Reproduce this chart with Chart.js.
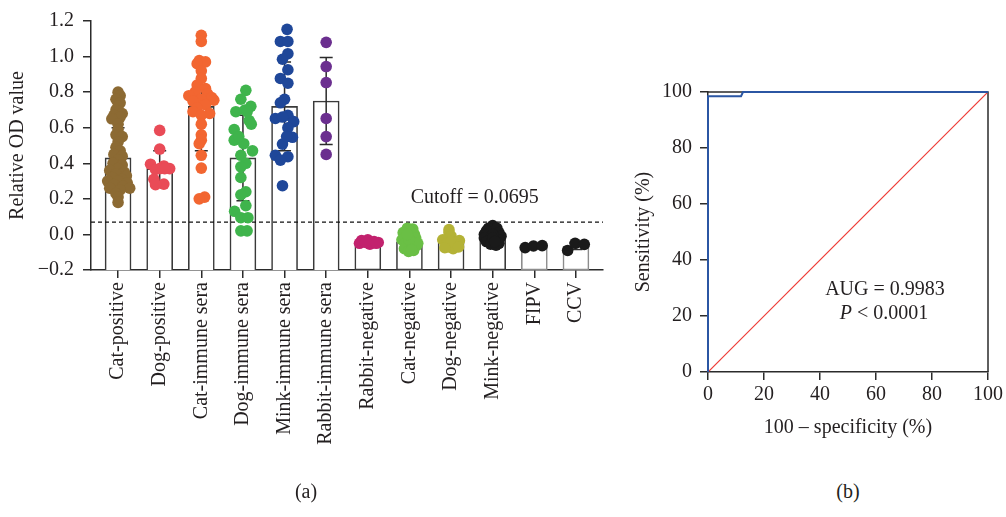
<!DOCTYPE html>
<html>
<head>
<meta charset="utf-8">
<script src="https://cdn.jsdelivr.net/npm/chart.js@4.4.0/dist/chart.umd.min.js"></script>
<style>
  body { margin: 0; background: #fff; }
  #wrap { position: relative; width: 1006px; height: 517px; }
  .box { position: absolute; }
  .tag { position: absolute; width: 60px; text-align: center; line-height: 24px;
         font: 20px 'Liberation Serif', serif; color: #231f20; }
</style>
</head>
<body>
<div id="wrap">
  <div class="box" style="left:0;top:0;width:620px;height:517px"><canvas id="odChart"></canvas></div>
  <div class="box" style="left:620px;top:0;width:386px;height:444px"><canvas id="rocChart"></canvas></div>
  <div class="tag" style="left:276px;top:480px">(a)</div>
  <div class="tag" style="left:818px;top:480px">(b)</div>
</div>
<script>
// ---- panel (a) data ----
const groups = ['Cat-positive', 'Dog-positive', 'Cat-immune sera', 'Dog-immune sera',
  'Mink-immune sera', 'Rabbit-immune sera', 'Rabbit-negative', 'Cat-negative',
  'Dog-negative', 'Mink-negative', 'FIPV', 'CCV'];
const groupColors = ['#8c6a33', '#e94b57', '#f26631', '#3fb44c', '#1f4799', '#6b2f8f',
  '#c2226e', '#6abf45', '#b4b236', '#1a1a1a', '#1a1a1a', '#1a1a1a'];
const barMeans = [0.43, 0.37, 0.72, 0.43, 0.72, 0.75, -0.04, -0.04, -0.045, -0.01, -0.067, -0.065];
const barSD = [0.17, 0.10, 0.25, 0.24, 0.25, 0.245, 0.01, 0.04, 0.03, 0.03, 0.005, 0.02];
const cutoff = 0.0695;

// [value, horizontal jitter in category units]
const catPositive = [[0.80, 0], [0.78, 0.05], [0.76, -0.05], [0.74, 0.05], [0.72, 0], [0.70, -0.05],
  [0.68, 0.1], [0.67, -0.1], [0.66, 0.05], [0.65, -0.15], [0.62, 0], [0.59, 0], [0.56, -0.05],
  [0.55, 0.1], [0.52, 0], [0.49, -0.05], [0.47, 0.05], [0.45, -0.1], [0.44, 0.1], [0.42, 0],
  [0.40, -0.12], [0.39, 0.1], [0.37, 0], [0.36, -0.2], [0.35, 0.15], [0.34, -0.05], [0.33, 0.2],
  [0.32, -0.15], [0.31, 0.08], [0.30, -0.25], [0.30, 0], [0.29, 0.22], [0.28, -0.1], [0.27, 0.12],
  [0.26, -0.2], [0.26, 0.28], [0.25, 0.05], [0.23, -0.05], [0.21, 0], [0.18, 0]];
const dogPositive = [[0.585, 0], [0.48, 0], [0.395, -0.22], [0.385, 0.1], [0.37, 0.24], [0.37, 0],
  [0.365, -0.1], [0.37, 0.12], [0.31, -0.14], [0.283, 0.1], [0.28, -0.1]];
const catImmune = [[1.12, 0], [1.085, 0], [0.977, -0.05], [0.97, 0.1], [0.96, -0.1], [0.92, 0],
  [0.877, 0], [0.84, -0.1], [0.82, 0.1], [0.80, -0.15], [0.79, 0.15], [0.78, -0.3], [0.77, 0.25],
  [0.76, 0], [0.755, 0.3], [0.75, -0.2], [0.73, 0.1], [0.71, -0.1], [0.69, -0.2], [0.68, 0.2],
  [0.67, 0], [0.62, 0], [0.56, 0], [0.53, 0], [0.51, -0.05], [0.445, 0], [0.373, 0], [0.21, 0.08],
  [0.20, -0.05]];
const dogImmune = [[0.81, 0.07], [0.76, -0.05], [0.72, 0.19], [0.69, -0.17], [0.70, 0.05],
  [0.64, 0.15], [0.62, 0.2], [0.59, -0.21], [0.53, -0.21], [0.51, 0.02], [0.47, 0.23],
  [0.445, -0.05], [0.40, 0.07], [0.38, -0.05], [0.32, -0.05], [0.24, 0.07], [0.223, -0.05],
  [0.162, 0.07], [0.13, -0.2], [0.094, -0.05], [0.094, 0.12], [0.02, -0.05], [0.02, 0.1],
  [0.55, -0.1], [0.69, 0.1]];
const minkImmune = [[1.153, 0.06], [1.085, -0.1], [1.085, 0.08], [1.016, 0.08], [0.985, -0.05],
  [0.926, 0.08], [0.877, -0.1], [0.85, 0.08], [0.76, 0], [0.74, -0.1], [0.652, -0.22], [0.67, 0.08],
  [0.634, 0.22], [0.60, 0.08], [0.546, 0.19], [0.508, -0.05], [0.445, -0.22], [0.437, 0.08],
  [0.418, -0.1], [0.274, -0.05], [0.66, -0.05], [0.55, 0.05]];
const rabbitImmune = [[1.08, 0], [0.944, 0], [0.854, 0], [0.652, 0], [0.55, 0], [0.45, 0]];
const rabbitNegative = [[-0.035, -0.15], [-0.03, 0], [-0.04, 0.15], [-0.045, 0.25], [-0.05, -0.2],
  [-0.055, 0.05], [-0.045, -0.05], [-0.05, 0.2]];
const catNegative = [[0.035, -0.05], [0.03, 0.08], [0.02, 0], [0.01, -0.15], [0, 0.12],
  [-0.01, -0.05], [-0.02, 0.15], [-0.03, -0.18], [-0.04, 0.05], [-0.05, -0.1], [-0.06, 0.18],
  [-0.07, 0], [-0.08, -0.12], [-0.09, 0.1], [-0.095, -0.02], [-0.05, 0.2], [-0.03, 0],
  [0, -0.05], [-0.085, 0.05]];
const dogNegative = [[0.027, -0.05], [0.01, -0.05], [-0.01, 0], [-0.03, -0.2], [-0.035, 0.2],
  [-0.05, -0.1], [-0.06, 0.15], [-0.07, -0.05], [-0.08, 0.05], [-0.04, 0], [-0.075, -0.15],
  [-0.07, 0.18]];
const minkNegative = [[0.05, 0], [0.035, -0.1], [0.035, 0.1], [0.02, -0.15], [0.01, 0.15],
  [0, -0.2], [-0.01, 0.2], [-0.02, -0.2], [-0.03, 0.15], [-0.04, -0.15], [-0.05, 0.15],
  [-0.055, -0.05], [-0.06, 0.08], [0, 0], [-0.02, 0], [-0.04, 0.05]];
const fipv = [[-0.074, -0.22], [-0.065, -0.02], [-0.063, 0.19]];
const ccv = [[-0.09, -0.2], [-0.05, -0.02], [-0.056, 0.2]];
const groupPoints = [catPositive, dogPositive, catImmune, dogImmune, minkImmune, rabbitImmune,
  rabbitNegative, catNegative, dogNegative, minkNegative, fipv, ccv];

// ---- panel (b) data ----
const rocFpr = [0, 0, 11.8, 12.5, 100];
const rocSens = [0, 98.5, 98.5, 100, 100];
const chanceLine = [0, 100];
const aucLabel = 'AUG = 0.9983';
const pLabel = ' < 0.0001';

Chart.defaults.font.family = "'Liberation Serif', serif";
Chart.defaults.font.size = 20;
Chart.defaults.color = '#231f20';
const ink = '#2b2b2b';
const FONT = "20px 'Liberation Serif', serif";

const axisLook = {
  grid: { drawOnChartArea: false, drawTicks: true, tickLength: 8, color: ink, lineWidth: 1.5, offset: false },
  border: { color: ink, width: 1.5 }
};

// error bars + cutoff line drawn right after the bars, under the dots
const errorBars = {
  id: 'errorBars',
  afterDatasetDraw(chart, args) {
    if (args.meta.type !== 'bar') return;
    const { ctx, chartArea } = chart;
    const x = chart.scales.x, y = chart.scales.y;
    ctx.save();
    ctx.strokeStyle = ink;
    ctx.lineWidth = 1.5;
    barMeans.forEach((m, i) => {
      const px = x.getPixelForValue(i);
      const top = y.getPixelForValue(m + barSD[i]);
      const bot = y.getPixelForValue(m - barSD[i]);
      ctx.beginPath();
      ctx.moveTo(px, top); ctx.lineTo(px, bot);
      ctx.moveTo(px - 6.5, top); ctx.lineTo(px + 6.5, top);
      ctx.moveTo(px - 6.5, bot); ctx.lineTo(px + 6.5, bot);
      ctx.stroke();
    });
    const cy = y.getPixelForValue(cutoff);
    ctx.setLineDash([4, 3]);
    ctx.lineWidth = 1.2;
    ctx.strokeStyle = '#111';
    ctx.beginPath();
    ctx.moveTo(chartArea.left, cy);
    ctx.lineTo(chartArea.right, cy);
    ctx.stroke();
    ctx.setLineDash([]);
    ctx.fillStyle = '#231f20';
    ctx.font = FONT;
    ctx.textAlign = 'center';
    ctx.textBaseline = 'alphabetic';
    ctx.fillText('Cutoff = ' + cutoff, x.getPixelForValue(8.57), y.getPixelForValue(0.178));
    ctx.restore();
  }
};

const scatterSets = groupPoints.map((pts, i) => ({
  type: 'scatter',
  label: groups[i],
  data: pts.map(([v, dx]) => ({ x: i + dx, y: v })),
  backgroundColor: groupColors[i],
  borderWidth: 0,
  pointRadius: 5.8,
  order: 0,
  clip: false
}));

new Chart(document.getElementById('odChart'), {
  type: 'scatter',
  data: {
    datasets: [...scatterSets, {
      type: 'bar',
      label: 'Mean',
      data: barMeans.map((m, i) => ({ x: i, y: [-0.2, m] })),
      backgroundColor: '#fff',
      borderColor: c => c.dataIndex >= 10 ? '#8c8c8c' : '#3a3a3a',
      borderWidth: 1.6,
      borderSkipped: 'start',
      barThickness: 26,
      order: 1
    }]
  },
  options: {
    responsive: true,
    maintainAspectRatio: false,
    animation: false,
    layout: { padding: { left: 2, right: 17, top: 12, bottom: 0 } },
    plugins: { legend: { display: false }, tooltip: { enabled: false } },
    scales: {
      x: {
        type: 'linear', min: -0.65, max: 11.65, offset: false,
        afterBuildTicks: s => { s.ticks = groups.map((_, i) => ({ value: i })); },
        afterFit: s => { s.height = 247; },
        ...axisLook,
        ticks: { autoSkip: false, minRotation: 90, maxRotation: 90, padding: 4, callback: v => groups[v] }
      },
      y: {
        min: -0.2, max: 1.2,
        afterFit: s => { s.width = 89; },
        ...axisLook,
        ticks: {
          stepSize: 0.2, padding: 9,
          callback: v => Math.abs(v) < 1e-9 ? '0.0' : v.toFixed(1).replace('-', '\u2212')
        },
        title: { display: true, text: 'Relative OD value', padding: { top: 4, bottom: 4 } }
      }
    }
  },
  plugins: [errorBars]
});

// frame on top/right, under the curve
const frame = {
  id: 'frame',
  beforeDatasetsDraw(chart) {
    const { ctx, chartArea: a } = chart;
    ctx.save();
    ctx.strokeStyle = ink;
    ctx.lineWidth = 1.5;
    ctx.beginPath();
    ctx.moveTo(a.left, a.top); ctx.lineTo(a.right, a.top); ctx.lineTo(a.right, a.bottom);
    ctx.stroke();
    ctx.restore();
  }
};

const rocText = {
  id: 'rocText',
  afterDatasetsDraw(chart) {
    const { ctx } = chart;
    const x = chart.scales.x, y = chart.scales.y;
    const cx = x.getPixelForValue(63.2);
    ctx.save();
    ctx.fillStyle = '#231f20';
    ctx.textBaseline = 'alphabetic';
    ctx.font = FONT;
    ctx.textAlign = 'center';
    ctx.fillText(aucLabel, cx, y.getPixelForValue(27.5));
    const italic = "italic 20px 'Liberation Serif', serif";
    ctx.font = italic;
    const wP = ctx.measureText('P').width;
    ctx.font = FONT;
    const wR = ctx.measureText(pLabel).width;
    const x0 = cx - 1 - (wP + wR) / 2;
    const by = y.getPixelForValue(18.9);
    ctx.textAlign = 'left';
    ctx.font = italic;
    ctx.fillText('P', x0, by);
    ctx.font = FONT;
    ctx.fillText(pLabel, x0 + wP, by);
    ctx.restore();
  }
};

new Chart(document.getElementById('rocChart'), {
  type: 'scatter',
  data: {
    datasets: [
      {
        label: 'ROC',
        data: rocFpr.map((v, i) => ({ x: v, y: rocSens[i] })),
        showLine: true, borderColor: '#2b56a3', borderWidth: 2, pointRadius: 0, clip: false
      },
      {
        label: 'Reference',
        data: chanceLine.map(v => ({ x: v, y: v })),
        showLine: true, borderColor: '#ee3b36', borderWidth: 1.2, pointRadius: 0
      }
    ]
  },
  options: {
    responsive: true,
    maintainAspectRatio: false,
    animation: false,
    layout: { padding: { left: 8, right: 18, top: 92, bottom: 0 } },
    plugins: { legend: { display: false }, tooltip: { enabled: false } },
    scales: {
      x: {
        min: 0, max: 100,
        afterFit: s => { s.height = 72; },
        ...axisLook,
        ticks: { stepSize: 20, padding: 3, maxRotation: 0 },
        title: { display: true, text: '100 \u2013 specificity (%)', padding: { top: 4, bottom: 4 } }
      },
      y: {
        min: 0, max: 100,
        afterFit: s => { s.width = 80; },
        ...axisLook,
        ticks: { stepSize: 20, padding: 8 },
        title: { display: true, text: 'Sensitivity (%)', padding: { top: 4, bottom: 4 } }
      }
    }
  },
  plugins: [frame, rocText]
});
</script>
</body>
</html>
